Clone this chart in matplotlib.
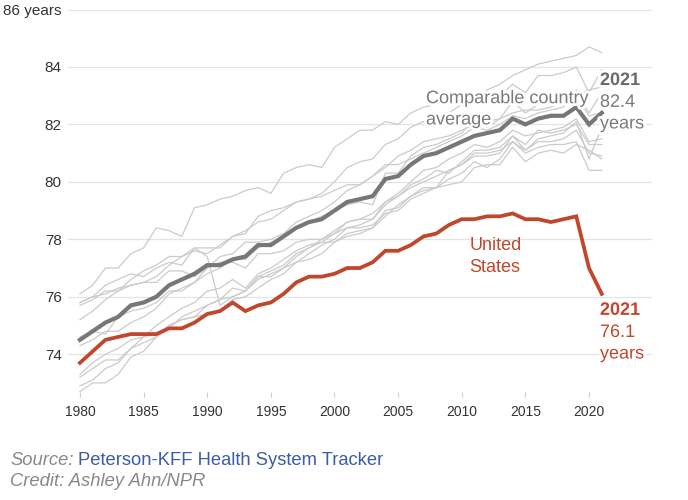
import matplotlib
matplotlib.use("Agg")
import matplotlib.pyplot as plt
import matplotlib.patheffects as pe

plt.rcParams["font.family"] = ["Liberation Sans", "DejaVu Sans"]

# ---------------------------------------------------------------------------
# Data: life expectancy at birth, 1980-2021
# ---------------------------------------------------------------------------

years = list(range(1980, 2022))

us = [73.7, 74.1, 74.5, 74.6, 74.7, 74.7, 74.7, 74.9, 74.9, 75.1,
      75.4, 75.5, 75.8, 75.5, 75.7, 75.8, 76.1, 76.5, 76.7, 76.7,
      76.8, 77.0, 77.0, 77.2, 77.6, 77.6, 77.8, 78.1, 78.2, 78.5,
      78.7, 78.7, 78.8, 78.8, 78.9, 78.7, 78.7, 78.6, 78.7, 78.8,
      77.0, 76.1]

comparable_avg = [74.5, 74.8, 75.1, 75.3, 75.7, 75.8, 76.0, 76.4, 76.6, 76.8,
                  77.1, 77.1, 77.3, 77.4, 77.8, 77.8, 78.1, 78.4, 78.6, 78.7,
                  79.0, 79.3, 79.4, 79.5, 80.1, 80.2, 80.6, 80.9, 81.0, 81.2,
                  81.4, 81.6, 81.7, 81.8, 82.2, 82.0, 82.2, 82.3, 82.3, 82.6,
                  82.0, 82.4]

japan = [76.1, 76.4, 77.0, 77.0, 77.5, 77.7, 78.4, 78.3, 78.1, 79.1,
         79.2, 79.4, 79.5, 79.7, 79.8, 79.6, 80.3, 80.5, 80.6, 80.5,
         81.2, 81.5, 81.8, 81.8, 82.1, 82.0, 82.4, 82.6, 82.7, 83.0,
         82.9, 82.7, 83.2, 83.4, 83.7, 83.9, 84.1, 84.2, 84.3, 84.4,
         84.7, 84.5]
switzerland = [75.7, 75.9, 76.2, 76.2, 76.6, 76.9, 77.1, 77.4, 77.4, 77.6,
               77.5, 77.8, 78.1, 78.3, 78.6, 78.7, 79.0, 79.3, 79.4, 79.6,
               80.0, 80.5, 80.7, 80.8, 81.3, 81.5, 81.9, 82.1, 82.3, 82.4,
               82.7, 82.9, 82.9, 83.0, 83.4, 83.1, 83.7, 83.7, 83.8, 84.0,
               83.1, 83.9]
sweden = [75.8, 76.0, 76.4, 76.6, 76.8, 76.7, 77.0, 77.2, 77.1, 77.7,
          77.7, 77.7, 78.1, 78.2, 78.8, 79.0, 79.1, 79.3, 79.4, 79.5,
          79.7, 79.9, 79.9, 80.2, 80.6, 80.6, 80.8, 81.0, 81.2, 81.4,
          81.6, 81.9, 81.8, 82.0, 82.3, 82.2, 82.4, 82.5, 82.6, 83.2,
          82.4, 83.1]
australia = [74.6, 74.8, 74.7, 75.3, 75.5, 75.6, 75.8, 76.2, 76.2, 76.5,
             77.0, 77.4, 77.5, 77.9, 77.9, 78.0, 78.2, 78.6, 78.8, 79.0,
             79.3, 79.7, 79.9, 80.2, 80.5, 80.9, 81.1, 81.4, 81.5, 81.6,
             81.8, 82.0, 82.1, 82.2, 82.4, 82.5, 82.5, 82.6, 82.8, 83.0,
             83.2, 83.3]
canada = [75.2, 75.5, 75.9, 76.2, 76.4, 76.5, 76.7, 77.1, 77.4, 77.7,
          77.4, 75.7, 76.0, 76.2, 76.7, 76.9, 77.1, 77.5, 77.7, 78.0,
          78.3, 78.6, 78.7, 78.9, 79.3, 79.5, 79.8, 80.0, 80.2, 80.4,
          80.6, 80.9, 80.9, 81.0, 81.6, 81.1, 81.4, 81.4, 81.5, 81.8,
          81.0, 80.9]
netherlands = [75.8, 76.0, 76.1, 76.3, 76.4, 76.5, 76.5, 76.9, 76.9, 76.7,
               77.0, 77.2, 77.2, 77.0, 77.5, 77.5, 77.6, 77.9, 78.0, 78.0,
               78.2, 78.4, 78.5, 78.7, 79.3, 79.6, 80.0, 80.4, 80.5, 80.8,
               81.0, 81.3, 81.2, 81.4, 81.8, 81.6, 81.7, 81.8, 81.9, 82.2,
               81.4, 81.5]
france = [74.3, 74.5, 74.8, 74.8, 75.1, 75.3, 75.6, 76.1, 76.3, 76.5,
          76.8, 77.0, 77.3, 77.3, 77.7, 77.9, 78.1, 78.4, 78.6, 78.8,
          79.0, 79.2, 79.3, 79.2, 80.3, 80.3, 80.9, 81.2, 81.3, 81.5,
          81.7, 82.2, 81.9, 82.2, 82.8, 82.4, 82.7, 82.7, 82.8, 83.0,
          82.3, 82.4]
germany = [72.9, 73.1, 73.5, 73.7, 74.2, 74.4, 74.6, 75.0, 75.2, 75.3,
           75.4, 75.5, 75.9, 76.0, 76.3, 76.6, 76.8, 77.2, 77.5, 77.8,
           78.0, 78.4, 78.4, 78.5, 78.9, 79.0, 79.4, 79.6, 79.8, 79.9,
           80.0, 80.5, 80.6, 80.6, 81.2, 80.7, 81.0, 81.1, 81.0, 81.3,
           81.1, 80.8]
uk = [73.2, 73.5, 73.8, 73.8, 74.2, 74.6, 74.7, 75.0, 75.2, 75.3,
      75.7, 75.9, 76.3, 76.2, 76.7, 76.7, 77.0, 77.2, 77.3, 77.5,
      77.9, 78.2, 78.3, 78.4, 78.8, 79.2, 79.5, 79.7, 79.8, 80.4,
      80.6, 81.0, 81.0, 81.1, 81.4, 81.0, 81.2, 81.3, 81.3, 81.4,
      80.4, 80.4]
austria = [72.7, 73.0, 73.0, 73.3, 73.9, 74.1, 74.6, 74.9, 75.3, 75.5,
           75.7, 75.9, 76.0, 76.2, 76.6, 76.8, 77.0, 77.4, 77.7, 77.9,
           78.2, 78.6, 78.7, 78.7, 79.2, 79.5, 79.9, 80.1, 80.4, 80.3,
           80.7, 81.1, 81.1, 81.2, 81.6, 81.3, 81.8, 81.7, 81.8, 82.0,
           81.3, 81.3]
belgium = [73.3, 73.7, 74.0, 74.2, 74.5, 74.6, 75.0, 75.3, 75.6, 75.8,
           76.2, 76.3, 76.6, 76.3, 76.8, 77.0, 77.3, 77.6, 77.8, 77.9,
           77.9, 78.1, 78.2, 78.4, 79.0, 79.1, 79.5, 79.8, 79.8, 80.1,
           80.3, 80.7, 80.5, 80.8, 81.4, 81.1, 81.5, 81.6, 81.7, 82.1,
           80.8, 81.9]

peers = [japan, switzerland, sweden, australia, canada, netherlands,
         france, germany, uk, austria, belgium]

y_ticks = [74, 76, 78, 80, 82, 84, 86]
y_tick_labels = ["74", "76", "78", "80", "82", "84", "86 years"]
x_ticks = [1980, 1985, 1990, 1995, 2000, 2005, 2010, 2015, 2020]

# ---------------------------------------------------------------------------
# Style
# ---------------------------------------------------------------------------

RED = "#c0472c"
AVG_GRAY = "#777777"
PEER_GRAY = "#cbcbcb"
LABEL_GRAY = "#7a7a7a"
halo = [pe.withStroke(linewidth=4, foreground="white")]

fig = plt.figure(figsize=(6.88, 5.0), dpi=100)
ax = fig.add_axes([68 / 688, 1 - 397 / 500, 584 / 688, (397 - 9.5) / 500])

for series in peers:
    ax.plot(years, series, color=PEER_GRAY, lw=0.9, zorder=2)
ax.plot(years, comparable_avg, color=AVG_GRAY, lw=3.0, zorder=3,
        solid_joinstyle="miter")
ax.plot(years, us, color=RED, lw=2.7, zorder=4, solid_joinstyle="miter")

ax.set_xlim(1979.06, 2024.95)
ax.set_ylim(72.51, 86)

ax.set_yticks(y_ticks)
ax.set_yticklabels(y_tick_labels)
ax.set_xticks(x_ticks)
ax.grid(axis="y", color="#e4e4e4", lw=0.9, zorder=0)
ax.set_axisbelow(True)
for s in ax.spines.values():
    s.set_visible(False)
ax.tick_params(axis="y", length=0, pad=4.5, labelsize=11, labelcolor="#333333")
ax.tick_params(axis="x", direction="in", length=3.6, width=0.8, color="#cccccc",
               pad=6, labelsize=10, labelcolor="#333333")

# ---------------------------------------------------------------------------
# Annotations
# ---------------------------------------------------------------------------

ax.text(2007.19, 82.74, "Comparable country", color=LABEL_GRAY, fontsize=13,
        va="baseline", zorder=5, path_effects=halo)
ax.text(2007.19, 82.0, "average", color=LABEL_GRAY, fontsize=13,
        va="baseline", zorder=5, path_effects=halo)

ax.text(2020.86, 83.37, "2021", color="#6b6b6b", fontsize=13, fontweight="bold",
        va="baseline", zorder=5, path_effects=halo)
ax.text(2020.86, 82.61, "82.4", color=LABEL_GRAY, fontsize=13,
        va="baseline", zorder=5, path_effects=halo)
ax.text(2020.86, 81.86, "years", color=LABEL_GRAY, fontsize=13,
        va="baseline", zorder=5, path_effects=halo)

ax.text(2010.6, 77.63, "United", color=RED, fontsize=13, va="baseline", zorder=5)
ax.text(2010.6, 76.875, "States", color=RED, fontsize=13, va="baseline", zorder=5)

ax.text(2020.86, 75.37, "2021", color=RED, fontsize=13, fontweight="bold",
        va="baseline", zorder=5, path_effects=halo)
ax.text(2020.86, 74.60, "76.1", color=RED, fontsize=13,
        va="baseline", zorder=5, path_effects=halo)
ax.text(2020.86, 73.85, "years", color=RED, fontsize=13,
        va="baseline", zorder=5, path_effects=halo)

# Source / credit
fig.text(10 / 688, 1 - 465 / 500, "Source:", color="#888888", fontsize=13.2,
         style="italic", va="baseline")
fig.text(77.7 / 688, 1 - 465 / 500, "Peterson-KFF Health System Tracker",
         color="#3b5ca8", fontsize=13.2, va="baseline")
fig.text(10 / 688, 1 - 486.5 / 500, "Credit: Ashley Ahn/NPR", color="#888888",
         fontsize=13.2, style="italic", va="baseline")

fig.savefig("out.png", dpi=100)
